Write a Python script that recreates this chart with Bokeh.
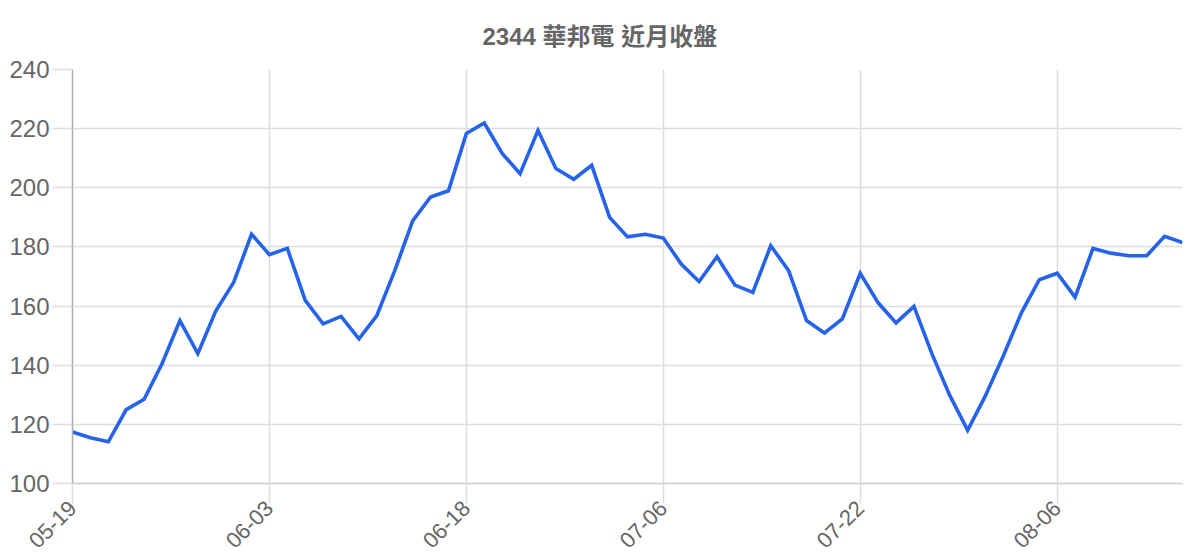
from bokeh.plotting import figure
from bokeh.models import Range1d, FixedTicker, SingleIntervalTicker, ColumnDataSource
from bokeh.embed import file_html
from bokeh.resources import INLINE
import math

title_text = "2344 華邦電 近月收盤"

dates = [
    "05-19", "05-20", "05-21", "05-22", "05-25", "05-26", "05-27", "05-28", "05-29", "06-01", "06-02",
    "06-03", "06-04", "06-05", "06-08", "06-09", "06-10", "06-11", "06-12", "06-15", "06-16", "06-17",
    "06-18", "06-22", "06-23", "06-24", "06-25", "06-26", "06-29", "06-30", "07-01", "07-02", "07-03",
    "07-06", "07-07", "07-08", "07-09", "07-10", "07-13", "07-14", "07-15", "07-16", "07-17", "07-20",
    "07-22", "07-23", "07-24", "07-27", "07-28", "07-29", "07-30", "07-31", "08-03", "08-04", "08-05",
    "08-06", "08-07", "08-10", "08-11", "08-12", "08-13", "08-14", "08-17",
]

close = [
    117.4, 115.5, 114.1, 125.0, 128.5, 140.5, 155.1, 143.9, 158.3, 168.0, 184.3,
    177.4, 179.5, 161.9, 154.0, 156.5, 148.9, 156.8, 172.0, 188.8, 196.9, 199.0,
    218.4, 221.9, 211.6, 204.8, 219.4, 206.5, 202.9, 207.6, 190.0, 183.4, 184.3,
    183.0, 174.2, 168.3, 176.7, 167.1, 164.6, 180.4, 172.0, 155.1, 150.9, 155.7,
    171.1, 161.1, 154.3, 159.9, 143.9, 129.8, 118.0, 129.8, 143.3, 157.7, 168.9,
    171.1, 163.0, 179.5, 177.9, 177.0, 177.0, 183.6, 181.5,
]

label_every = 11
y_min, y_max, y_step = 100, 240, 20

idx = list(range(len(dates)))
tick_idx = idx[::label_every]
src = ColumnDataSource(data=dict(x=idx, y=close, d=dates))

p = figure(
    width=1190, height=558,
    output_backend="svg", toolbar_location=None,
    x_range=Range1d(0, len(dates) - 1), y_range=Range1d(y_min, y_max),
    min_border_left=72, min_border_right=8, min_border_top=69, min_border_bottom=75,
)
p.outline_line_color = None
p.background_fill_color = "white"
p.border_fill_color = "white"

p.title.text = title_text
p.title.align = "left"
p.title.offset = 410
p.title.text_font = "Liberation Sans, Noto Sans CJK TC"
p.title.text_font_size = "24px"
p.title.text_font_style = "bold"
p.title.text_color = "#666666"
p.title.text_line_height = 1.0
p.title.standoff = 40

p.line("x", "y", source=src, line_color="#2563eb", line_width=3.6, line_join="miter")

xa = p.xaxis[0]
xa.ticker = FixedTicker(ticks=tick_idx)
xa.major_label_overrides = {i: dates[i] for i in tick_idx}
xa.major_label_orientation = math.pi / 4
xa.major_label_text_font = "Liberation Sans"
xa.major_label_text_font_size = "22px"
xa.major_label_text_color = "#666666"
xa.axis_line_color = "#cccccc"
xa.axis_line_width = 1.5
xa.major_tick_out = 20
xa.major_tick_in = 0
xa.major_tick_line_color = "#dddddd"
xa.major_tick_line_width = 1.5
xa.minor_tick_line_color = None
xa.major_label_standoff = 1

ya = p.yaxis[0]
ya.ticker = SingleIntervalTicker(interval=y_step)
ya.major_label_text_font = "Liberation Sans"
ya.major_label_text_font_size = "24px"
ya.major_label_text_color = "#666666"
ya.axis_line_color = "#aaaaaa"
ya.axis_line_width = 1.5
ya.major_tick_out = 20
ya.major_tick_in = 0
ya.major_tick_line_color = "#dddddd"
ya.major_tick_line_width = 1.5
ya.minor_tick_line_color = None
ya.major_label_standoff = 3

p.xgrid.ticker = FixedTicker(ticks=tick_idx)
p.xgrid.grid_line_color = "#dddddd"
p.xgrid.grid_line_width = 1.5
p.ygrid.grid_line_color = "#dddddd"
p.ygrid.grid_line_width = 1.5

open("out.html", "w").write(file_html(p, INLINE))
